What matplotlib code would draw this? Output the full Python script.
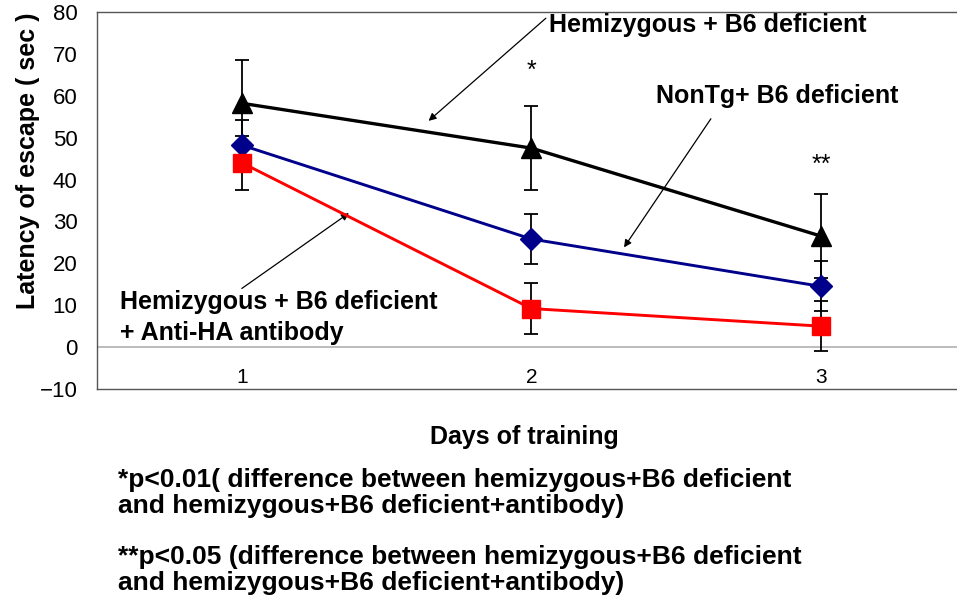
import numpy as np
import matplotlib
matplotlib.use("Agg")
import matplotlib.pyplot as plt

plt.rcParams["font.family"] = ["Liberation Sans", "DejaVu Sans"]

days = [1, 2, 3]
day_labels = ["1", "2", "3"]

hemi_mean = [58.2, 47.5, 26.5]
hemi_err = [10.3, 10.0, 10.0]
nontg_mean = [48.2, 25.8, 14.5]
nontg_err = [6.0, 6.0, 6.0]
anti_mean = [44.0, 9.2, 5.0]
anti_err = [6.5, 6.0, 6.0]

sig_days = [2, 3]
sig_y = [66.0, 43.5]
sig_marks = ["*", "**"]

fig = plt.figure(figsize=(9.57, 5.97), dpi=100)
ax = fig.add_axes([0.1014, 0.3484, 0.8986, 0.6316])

# error bars (all black), drawn under the lines
for m, e in [(hemi_mean, hemi_err), (nontg_mean, nontg_err), (anti_mean, anti_err)]:
    ax.errorbar(days, m, yerr=e, fmt="none", ecolor="black", elinewidth=1.3,
                capsize=5, capthick=1.3, zorder=2)

ax.plot(days, hemi_mean, "-^", color="black", lw=2.4, ms=14, zorder=4)
ax.plot(days, nontg_mean, "-D", color="#00008B", lw=2.1, ms=11, zorder=4)
ax.plot(days, anti_mean, "-s", color="#FF0000", lw=2.1, ms=13, zorder=4)

for d, y, s in zip(sig_days, sig_y, sig_marks):
    ax.text(d, y, s, ha="center", va="center", fontsize=18)

ax.axhline(0, color="#b0b0b0", lw=1.2, zorder=1)

ax.set_xlim(0.5, 3.47)
ax.set_ylim(-10, 80)
ax.set_yticks(np.arange(-10, 81, 10))
ax.set_yticklabels([f"{v}".replace("-", "\u2212") for v in range(-10, 81, 10)], fontsize=16)
ax.tick_params(axis="y", length=0, pad=14)
ax.set_xticks([])
for d, lab in zip(days, day_labels):
    ax.text(d, -7.3, lab, ha="center", va="center", fontsize=15)

for side in ["left", "top", "bottom"]:
    ax.spines[side].set_color("#555555")
    ax.spines[side].set_linewidth(1.0)
ax.spines["right"].set_visible(False)

ax.set_ylabel("Latency of escape ( sec )", fontsize=18, fontweight="bold")
ax.yaxis.set_label_coords(-0.066, 0.605)

arrow = dict(arrowstyle="-|>", color="black", lw=0.9, mutation_scale=11, shrinkA=0, shrinkB=0)
ax.text(2.06, 77.0, "Hemizygous + B6 deficient", fontsize=18, fontweight="bold",
        ha="left", va="center")
ax.annotate("", xy=(1.645, 54.0), xytext=(2.05, 78.5), arrowprops=arrow)
ax.text(2.43, 60.0, "NonTg+ B6 deficient", fontsize=18, fontweight="bold",
        ha="left", va="center")
ax.annotate("", xy=(2.32, 23.8), xytext=(2.62, 54.5), arrowprops=arrow)
ax.annotate("", xy=(1.37, 32.0), xytext=(1.0, 14.0), arrowprops=arrow)
ax.text(0.578, 7.0, "Hemizygous + B6 deficient\n+ Anti-HA antibody", fontsize=18,
        fontweight="bold", ha="left", va="center", linespacing=1.35)

fig.text(0.548, 1 - 437 / 597, "Days of training", fontsize=18, fontweight="bold",
         ha="center", va="center")
fig.text(0.123, 1 - 493 / 597,
         "*p<0.01( difference between hemizygous+B6 deficient\n"
         "and hemizygous+B6 deficient+antibody)",
         fontsize=19, fontweight="bold", ha="left", va="center", linespacing=1.12)
fig.text(0.123, 1 - 570 / 597,
         "**p<0.05 (difference between hemizygous+B6 deficient\n"
         "and hemizygous+B6 deficient+antibody)",
         fontsize=19, fontweight="bold", ha="left", va="center", linespacing=1.12)

fig.savefig("out.png", dpi=100)
